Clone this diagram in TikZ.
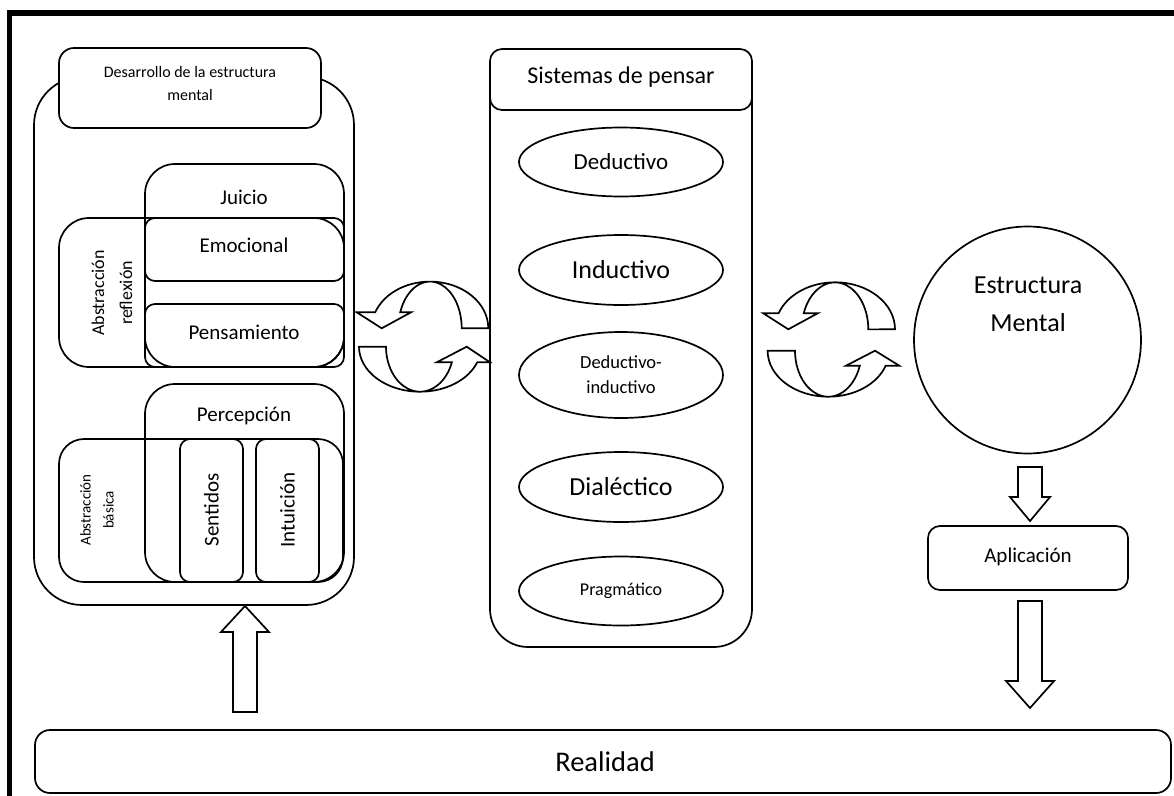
\documentclass[tikz,border=0pt]{standalone}
\usepackage{fontspec}
\setmainfont{Carlito}
\usetikzlibrary{shapes.geometric}
\begin{document}
\begin{tikzpicture}[x=1pt,y=-1pt,line width=1.7pt,line join=round,
  fs/.style 2 args={font=\fontsize{#1}{#2}\selectfont},
  lbl/.style={inner sep=0pt,align=center},
  oval/.style={ellipse,draw,minimum width=204pt,minimum height=69pt,inner sep=0pt,align=center},
  head/.style={draw,fill=white},
  blockarrow/.style={draw,fill=white,line join=miter}]
\useasboundingbox (0,0) rectangle (1174,795);

% outer frame (top and left edges)
\draw[line width=5.5pt,line join=miter] (9.5,800) -- (9.5,13) -- (1180,13);

% ---------------- left column ----------------
\draw[rounded corners=48] (34,77) rectangle (354,605);
\draw[head,rounded corners=15] (59,48) rectangle (321,128);
\node[lbl,fs={16pt}{23pt}] (desarrollo) at (190,84) {Desarrollo de la estructura\\mental};

% judgement block
\draw[rounded corners=30] (145,164) rectangle (344,367);
\node[lbl,fs={21pt}{25pt}] (juicio) at (244,197) {Juicio};
\draw[rounded corners=30] (59,218) rectangle (344,367);
\node[lbl,fs={18pt}{28pt},rotate=90] (reflexion) at (112,293) {Abstracción\\reflexión};
\draw[rounded corners=10] (145,218) rectangle (344,281);
\node[lbl,fs={21pt}{25pt}] (emocional) at (244,245) {Emocional};
\draw[rounded corners=10] (145,304) rectangle (344,367);
\node[lbl,fs={21pt}{25pt}] (pensamiento) at (244,332) {Pensamiento};

% perception block
\draw[rounded corners=30] (145,384) rectangle (344,582);
\node[lbl,fs={21pt}{25pt}] (percepcion) at (244,416) {Percepción};
\draw[rounded corners=25] (59,439) rectangle (343,582);
\node[lbl,fs={15pt}{23pt},rotate=90] (basica) at (97,510) {Abstracción\\básica};
\draw[rounded corners=10] (180,439) rectangle (243,582);
\node[lbl,fs={21pt}{25pt},rotate=90] (sentidos) at (211.5,510) {Sentidos};
\draw[rounded corners=10] (256,439) rectangle (319,582);
\node[lbl,fs={21pt}{25pt},rotate=90] (intuicion) at (287.5,510) {Intuición};

% ---------------- middle column ----------------
\draw[rounded corners=38] (490,60) rectangle (752,647);
\draw[head,rounded corners=12] (490,49) rectangle (752,110);
\node[lbl,fs={24pt}{28pt}] (sistemas) at (621,77) {Sistemas de pensar};

\node[oval,fs={23pt}{27pt}] (deductivo) at (621,162) {Deductivo};
\node[oval,fs={26pt}{30pt},minimum height=70pt] (inductivo) at (621,270) {Inductivo};
\node[oval,fs={18.5pt}{25pt},minimum height=86pt] (dedind) at (621,375) {Deductivo-\\inductivo};
\node[oval,fs={26pt}{30pt},minimum height=70pt] (dialectico) at (621,487) {Dialéctico};
\node[oval,fs={18pt}{22pt}] (pragmatico) at (621,591) {Pragmático};

% ---------------- right column ----------------
\node[circle,draw,minimum size=227pt,inner sep=0pt] (estructura) at (1027.5,340) {};
\node[lbl,fs={26pt}{38pt}] (estructuratxt) at (1028,304) {Estructura\\Mental};
\draw[rounded corners=12] (928,526) rectangle (1128,590);
\node[lbl,fs={21pt}{25pt}] (aplicacion) at (1028,557) {Aplicación};

% ---------------- bottom ----------------
\draw[rounded corners=15] (35,730) rectangle (1171,793);
\node[lbl,fs={28.5pt}{32pt}] (realidad) at (605,762) {Realidad};

% ---------------- block arrows ----------------
% Realidad -> mental structure development
\draw[blockarrow] (233,712) -- (257,712) -- (257,632) -- (269,632) -- (245,606)
  -- (221,632) -- (233,632) -- cycle;
% mental structure -> application
\draw[blockarrow] (1018,467) -- (1042,467) -- (1042,497) -- (1050,497) -- (1030,521)
  -- (1010,497) -- (1018,497) -- cycle;
% application -> Realidad
\draw[blockarrow] (1018,601) -- (1042,601) -- (1042,681) -- (1054,681) -- (1030,708)
  -- (1006,681) -- (1018,681) -- cycle;

% ---------------- curved exchange arrows (left pair) ----------------
\draw[blockarrow] (488.3,328.3) arc[start angle=0,end angle=-160,x radius=58.3,y radius=46.7]
  -- (356.7,312.3) -- (381.7,328.3) -- (411,312.3) -- (400.2,312.3)
  arc[start angle=-160,end angle=0,x radius=31.7,y radius=46.7] -- cycle;
\draw[blockarrow] (359,346.7) arc[start angle=180,end angle=20.3,x radius=61,y radius=45]
  -- (490,362.3) -- (466.7,346.7) -- (436.7,362.3) -- (451.9,362.3)
  arc[start angle=20.3,end angle=180,x radius=34,y radius=45] -- cycle;

% ---------------- curved exchange arrows (right pair) ----------------
\draw[blockarrow] (895,329.3) arc[start angle=0,end angle=-160,x radius=60,y radius=47]
  -- (763.3,313.3) -- (788.3,329.3) -- (817.7,313.3) -- (803.7,313.3)
  arc[start angle=-160,end angle=0,x radius=33.3,y radius=47] -- cycle;
\draw[blockarrow] (767.6,350.7) arc[start angle=180,end angle=19,x radius=60.7,y radius=46]
  -- (899.3,365.7) -- (875,350.7) -- (846,365.7) -- (859.8,365.7)
  arc[start angle=19,end angle=180,x radius=33.3,y radius=46] -- cycle;
\end{tikzpicture}
\end{document}
